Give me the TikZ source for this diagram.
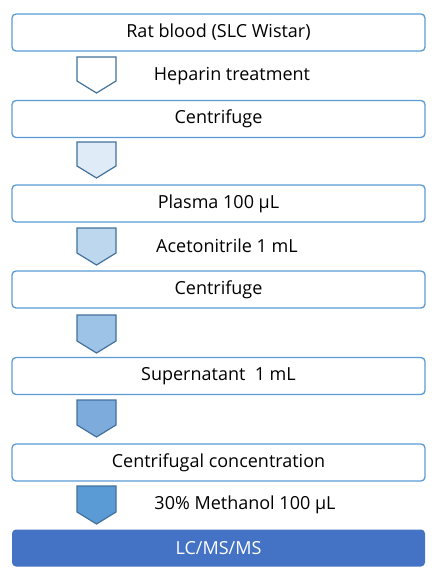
\documentclass[tikz,border=0pt]{standalone}
\usepackage{fontspec}
\setmainfont{Open Sans}
\definecolor{boxline}{HTML}{5B9BD5}
\definecolor{arrline}{HTML}{41719C}
\definecolor{aone}{HTML}{FFFFFF}
\definecolor{atwo}{HTML}{DFEBF7}
\definecolor{athree}{HTML}{BDD7EE}
\definecolor{afour}{HTML}{9DC3E6}
\definecolor{afive}{HTML}{7DABDC}
\definecolor{asix}{HTML}{5B9BD5}
\definecolor{final}{HTML}{4472C4}
\tikzset{
  x=1pt,y=-1pt,
  stepbox/.style={draw=boxline,line width=1.3pt,rounded corners=4pt,fill=white,
    minimum width=413pt,minimum height=37pt,inner sep=0pt,
    font=\fontsize{18}{20}\selectfont,text=black},
  finalbox/.style={stepbox,draw=none,fill=final,text=white},
  lbl/.style={font=\fontsize{18}{20}\selectfont,inner sep=0pt,anchor=center},
  chev/.style={draw=arrline,line width=1.2pt,line join=miter},
}
\newcommand{\chevron}[4]{% name, top y, fill color, shoulder offset
  \draw[chev,fill=#3] (77,#2) -- (116,#2) -- (116,#2+#4) -- (96.5,#2+#4+12) -- (77,#2+#4) -- cycle;
  \coordinate (#1) at (96.5,#2);
}
\begin{document}
\begin{tikzpicture}
\useasboundingbox (0,0) rectangle (442,582);
\node[stepbox] (b1) at (218.5,32.5) {Rat blood (SLC Wistar)};
\node[stepbox] (b2) at (218.5,119) {Centrifuge};
\node[stepbox] (b3) at (218.5,203.5) {Plasma 100 µL};
\node[stepbox] (b4) at (218.5,289.5) {Centrifuge};
\node[stepbox] (b5) at (218.5,376) {Supernatant\ \ 1 mL};
\node[stepbox] (b6) at (218.5,462.5) {Centrifugal concentration};
\node[finalbox] (b7) at (218.5,548) {LC/MS/MS};
\chevron{c1}{57}{aone}{24}
\chevron{c2}{142}{atwo}{24}
\chevron{c3}{228}{athree}{25}
\chevron{c4}{315}{afour}{26}
\chevron{c5}{400}{afive}{25}
\chevron{c6}{486}{asix}{26}
\node[lbl] (l1) at (232,76) {Heparin treatment};
\node[lbl] (l2) at (227,246) {Acetonitrile 1 mL};
\node[lbl] (l3) at (245,505) {30\% Methanol 100 µL};
\end{tikzpicture}
\end{document}
